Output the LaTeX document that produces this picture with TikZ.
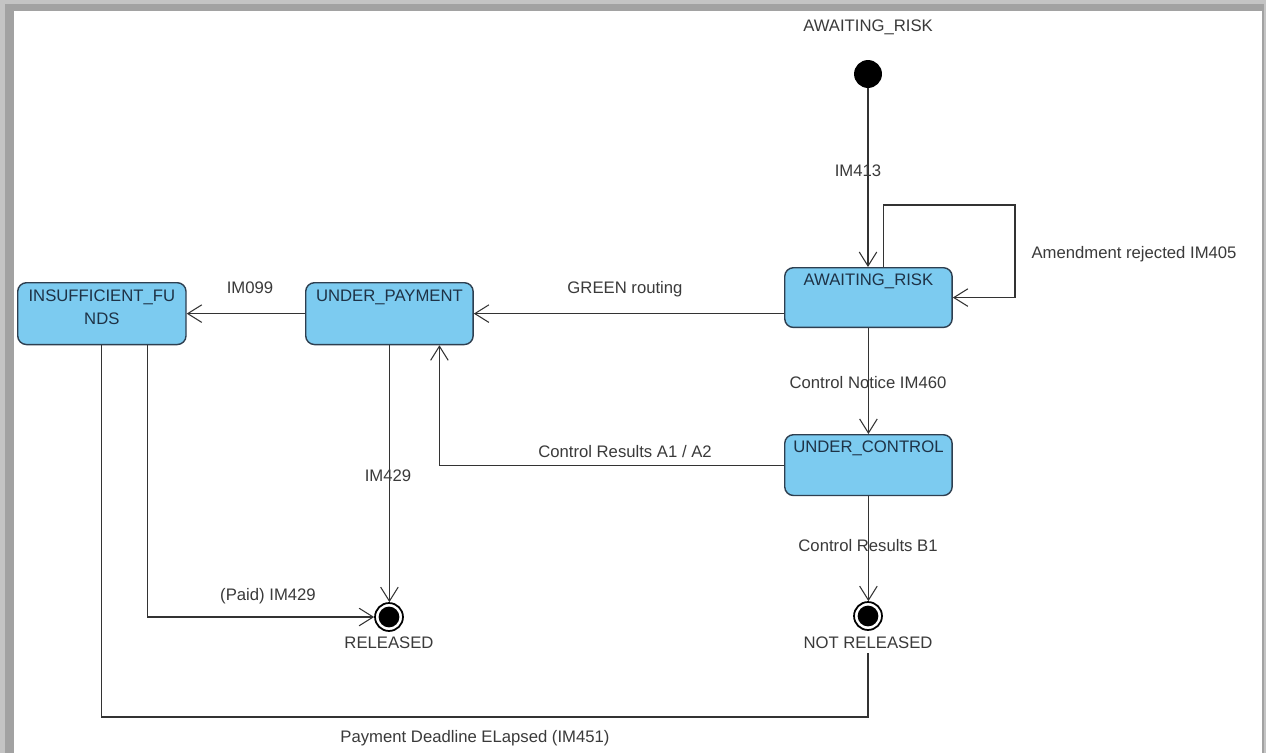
\documentclass[tikz,border=0pt]{standalone}
\usepackage{fontspec}
\setmainfont{Liberation Sans}
\usetikzlibrary{arrows.meta,calc}
\definecolor{stfill}{HTML}{7CCBF0}
\definecolor{stdraw}{HTML}{2E3F50}
\definecolor{sttext}{HTML}{1E3246}
\definecolor{lblc}{HTML}{3A3A3A}
\definecolor{frameout}{HTML}{C4C4C4}
\definecolor{framein}{HTML}{A2A2A2}
\begin{document}
\begin{tikzpicture}[x=0.02cm,y=-0.02cm,
  state/.style={draw=stdraw, fill=stfill, line width=0.8pt, rounded corners=5pt,
    minimum width=95.3pt, inner sep=0pt, anchor=north west, text=sttext,
    font=\fontsize{9.5}{13}\selectfont},
  lbl/.style={text=lblc, font=\fontsize{9.5}{11}\selectfont, inner sep=0pt},
  tr/.style={draw=black!80, line width=0.6pt, -{Straight Barb[length=8pt,width=10pt]}},
  ln/.style={draw=black!80, line width=0.6pt},
  initst/.style={circle, fill=black, minimum size=15.9pt, inner sep=0pt},
  finst/.style={circle, draw=black, fill=white, line width=1pt, minimum size=15.9pt, inner sep=0pt,
    path picture={\fill[black] (path picture bounding box.center) circle (5.9pt);}}]
\useasboundingbox (0,0) rectangle (1266,753);
% frame
\fill[frameout] (0,0) rectangle (1266,753);
\fill[framein] (5,4) rectangle (1264,753);
\fill[white] (14,11) rectangle (1262,753);

% states
\node[state, text height=10.2pt, text depth=23.8pt] (ar) at (784,267) {AWAITING\_RISK};
\node[state, text height=10.8pt, text depth=24.4pt] (up) at (305,282) {UNDER\_PAYMENT};
\node[state, minimum width=95.8pt, text height=10.8pt, text depth=24.4pt] (isf) at (17,282)
  {\setlength{\tabcolsep}{0pt}\begin{tabular}[t]{c}INSUFFICIENT\_FU\\NDS\end{tabular}};
\node[state, text height=10.2pt, text depth=24.4pt] (uc) at (784,434) {UNDER\_CONTROL};

\node[initst] (i0) at (868,74) {};
\node[lbl] (i0t) at (868,27) {AWAITING\_RISK};
\node[finst] (rel) at (389,617) {};
\node[lbl] (relt) at (389,643) {RELEASED};
\node[finst] (nrel) at (868,616) {};
\node[lbl] (nrelt) at (868,643) {NOT RELEASED};

\coordinate (loopc) at (1015,205);
\coordinate (dl) at (868,717);

% transitions
\draw[tr] (i0.south) -- (i0.south |- ar.north);
\draw[tr] ($(ar.north)+(15,0)$) |- (loopc) |- (ar.east);
\draw[tr] (up.east -| ar.west) -- (up.east);
\draw[tr] (up.west) -- (isf.east);
\draw[tr] (ar.south) -- (uc.north);
\draw[tr] (uc.west) -| ($(up.south)+(50,0)$);
\draw[tr] (up.south) -- (up.south |- rel.north);
\draw[tr] ($(isf.south)+(46,0)$) |- (rel.west);
\draw[tr] (uc.south) -- (uc.south |- nrel.north);
\draw[ln] (isf.south) |- (dl) -- ($(dl |- nrelt.south)+(0,4)$);

% labels
\node[lbl] (l1) at (858,171) {IM413};
\node[lbl] (l2) at (1134,254) {Amendment rejected IM405};
\node[lbl] (l3) at (250,288) {IM099};
\node[lbl] (l4) at (625,289) {GREEN routing};
\node[lbl] (l5) at (868,383) {Control Notice IM460};
\node[lbl] (l6) at (625,452) {Control Results A1 / A2};
\node[lbl] (l7) at (388,476) {IM429};
\node[lbl] (l8) at (268,596) {(Paid) IM429};
\node[lbl] (l9) at (868,546) {Control Results B1};
\node[lbl] (l10) at (475,738) {Payment Deadline ELapsed (IM451)};
\end{tikzpicture}
\end{document}
